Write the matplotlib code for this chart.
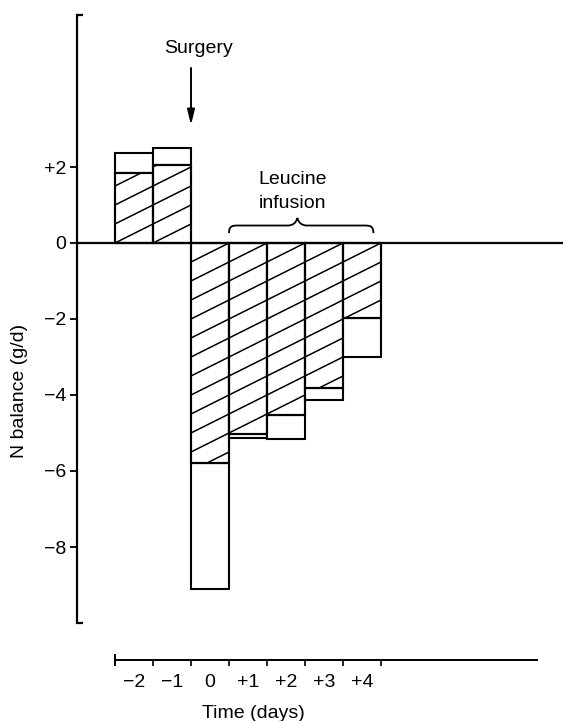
import numpy as np
import matplotlib
matplotlib.use("Agg")
import matplotlib.pyplot as plt
from matplotlib.patches import Rectangle, PathPatch
from matplotlib.path import Path
from matplotlib.collections import LineCollection

plt.rcParams['font.family'] = ['Liberation Sans', 'DejaVu Sans']

# ---- data ----
days = [-2, -1, 0, 1, 2, 3, 4]
day_labels = ['\u22122', '\u22121', '0', '+1', '+2', '+3', '+4']
mean_balance = [1.85, 2.05, -5.8, -5.02, -4.52, -3.82, -1.97]
sd_limit = [2.37, 2.5, -9.1, -5.12, -5.17, -4.12, -3.0]
yticks = [2, 0, -2, -4, -6, -8]
ytick_labels = ['+2', '0', '\u22122', '\u22124', '\u22126', '\u22128']

FS = 14
W, H = 563, 721
fig = plt.figure(figsize=(W / 100, H / 100), dpi=100)

def fx(px):
    return px / W

def fy(py):
    return 1 - py / H

# main axes: x from 77px to 563px, y from 15px to 623px
ax = fig.add_axes([fx(77), fy(623), fx(563) - fx(77), fy(15) - fy(623)])
ax.set_xlim(-3.5, 9.29)
ax.set_ylim(-10, 6)
for s in ['top', 'right', 'bottom']:
    ax.spines[s].set_visible(False)
ax.spines['left'].set_linewidth(1.6)
ax.set_xticks([])
ax.set_yticks(yticks)
ax.set_yticklabels(ytick_labels, fontsize=FS)
ax.tick_params(axis='y', direction='out', length=5, width=1.3, pad=3)

# end ticks of y axis
ax.plot([0, 0.012], [1, 1], transform=ax.transAxes, color='black', lw=1.6,
        clip_on=False, solid_capstyle='butt')
ax.plot([0, 0.012], [0, 0], transform=ax.transAxes, color='black', lw=1.6,
        clip_on=False, solid_capstyle='butt')

# zero line
ax.axhline(0, color='black', lw=1.6, zorder=5)

# hatch lines: y = 0.5 x + c
cs = np.arange(-20, 20, 0.5) + 0.25
hx = np.array([-4.0, 10.0])

for d, m, s in zip(days, mean_balance, sd_limit):
    lo, hi = sorted([m, s])
    ax.add_patch(Rectangle((d - 0.5, lo), 1, hi - lo, facecolor='white',
                           edgecolor='black', lw=1.5, zorder=3))
    bar = Rectangle((d - 0.5, 0), 1, m, facecolor='white',
                    edgecolor='black', lw=1.5, zorder=3)
    ax.add_patch(bar)
    segs = [np.column_stack([hx, 0.5 * hx + c]) for c in cs]
    lc = LineCollection(segs, colors='black', linewidths=1.1, zorder=3.5)
    ax.add_collection(lc)
    lc.set_clip_path(bar)
    ax.add_patch(Rectangle((d - 0.5, 0), 1, m, facecolor='none',
                           edgecolor='black', lw=1.5, zorder=4))

# Surgery arrow
ax.annotate('', xy=(-0.5, 3.03), xytext=(-0.5, 4.68),
            arrowprops=dict(arrowstyle='-|>,head_length=0.9,head_width=0.22',
                            color='black', lw=1.4))
ax.text(-0.3, 5.12, 'Surgery', ha='center', va='center', fontsize=FS)

# Leucine infusion brace
x0, x1, xm = 0.5, 4.3, 2.3
yb, yt = 0.26, 0.66
ym = (yb + yt) / 2
verts = [(x0, yb), (x0, ym), (x0 + 0.1, ym), (x0 + 0.25, ym),
         (xm - 0.25, ym), (xm - 0.05, ym), (xm, yt),
         (xm + 0.05, ym), (xm + 0.25, ym), (x1 - 0.25, ym),
         (x1 - 0.1, ym), (x1, ym), (x1, yb)]
codes = [Path.MOVETO, Path.CURVE4, Path.CURVE4, Path.CURVE4,
         Path.LINETO, Path.CURVE3, Path.CURVE3,
         Path.CURVE3, Path.CURVE3, Path.LINETO,
         Path.CURVE4, Path.CURVE4, Path.CURVE4]
ax.add_patch(PathPatch(Path(verts, codes), facecolor='none',
                       edgecolor='black', lw=1.3))
ax.text(2.18, 1.68, 'Leucine', ha='center', va='center', fontsize=FS)
ax.text(2.18, 1.03, 'infusion', ha='center', va='center', fontsize=FS)

# y label
fig.text(fx(20), fy(391), 'N balance (g/d)', rotation=90, ha='center',
         va='center', fontsize=FS)

# time axis
ax2 = fig.add_axes([fx(77), fy(660), fx(563) - fx(77), 0.01])
ax2.set_xlim(-3.5, 9.29)
ax2.set_ylim(0, 1)
for s in ['top', 'right', 'left']:
    ax2.spines[s].set_visible(False)
ax2.spines['bottom'].set_bounds(-2.5, 8.6)
ax2.spines['bottom'].set_linewidth(1.4)
ax2.set_yticks([])
ax2.set_xticks([d + 0.5 for d in days])
ax2.set_xticklabels([])
ax2.tick_params(axis='x', which='major', direction='out', length=4, width=1.2)
ax2.set_xticks(days, minor=True)
ax2.set_xticklabels(day_labels, minor=True, fontsize=FS)
ax2.tick_params(axis='x', which='minor', length=0, pad=10)
ax2.plot([-2.5, -2.5], [-0.7, 0.7], color='black', lw=1.4, clip_on=False)
fig.text(fx(253), fy(714), 'Time (days)', ha='center', va='center', fontsize=FS)

fig.savefig('out.png', dpi=100)
